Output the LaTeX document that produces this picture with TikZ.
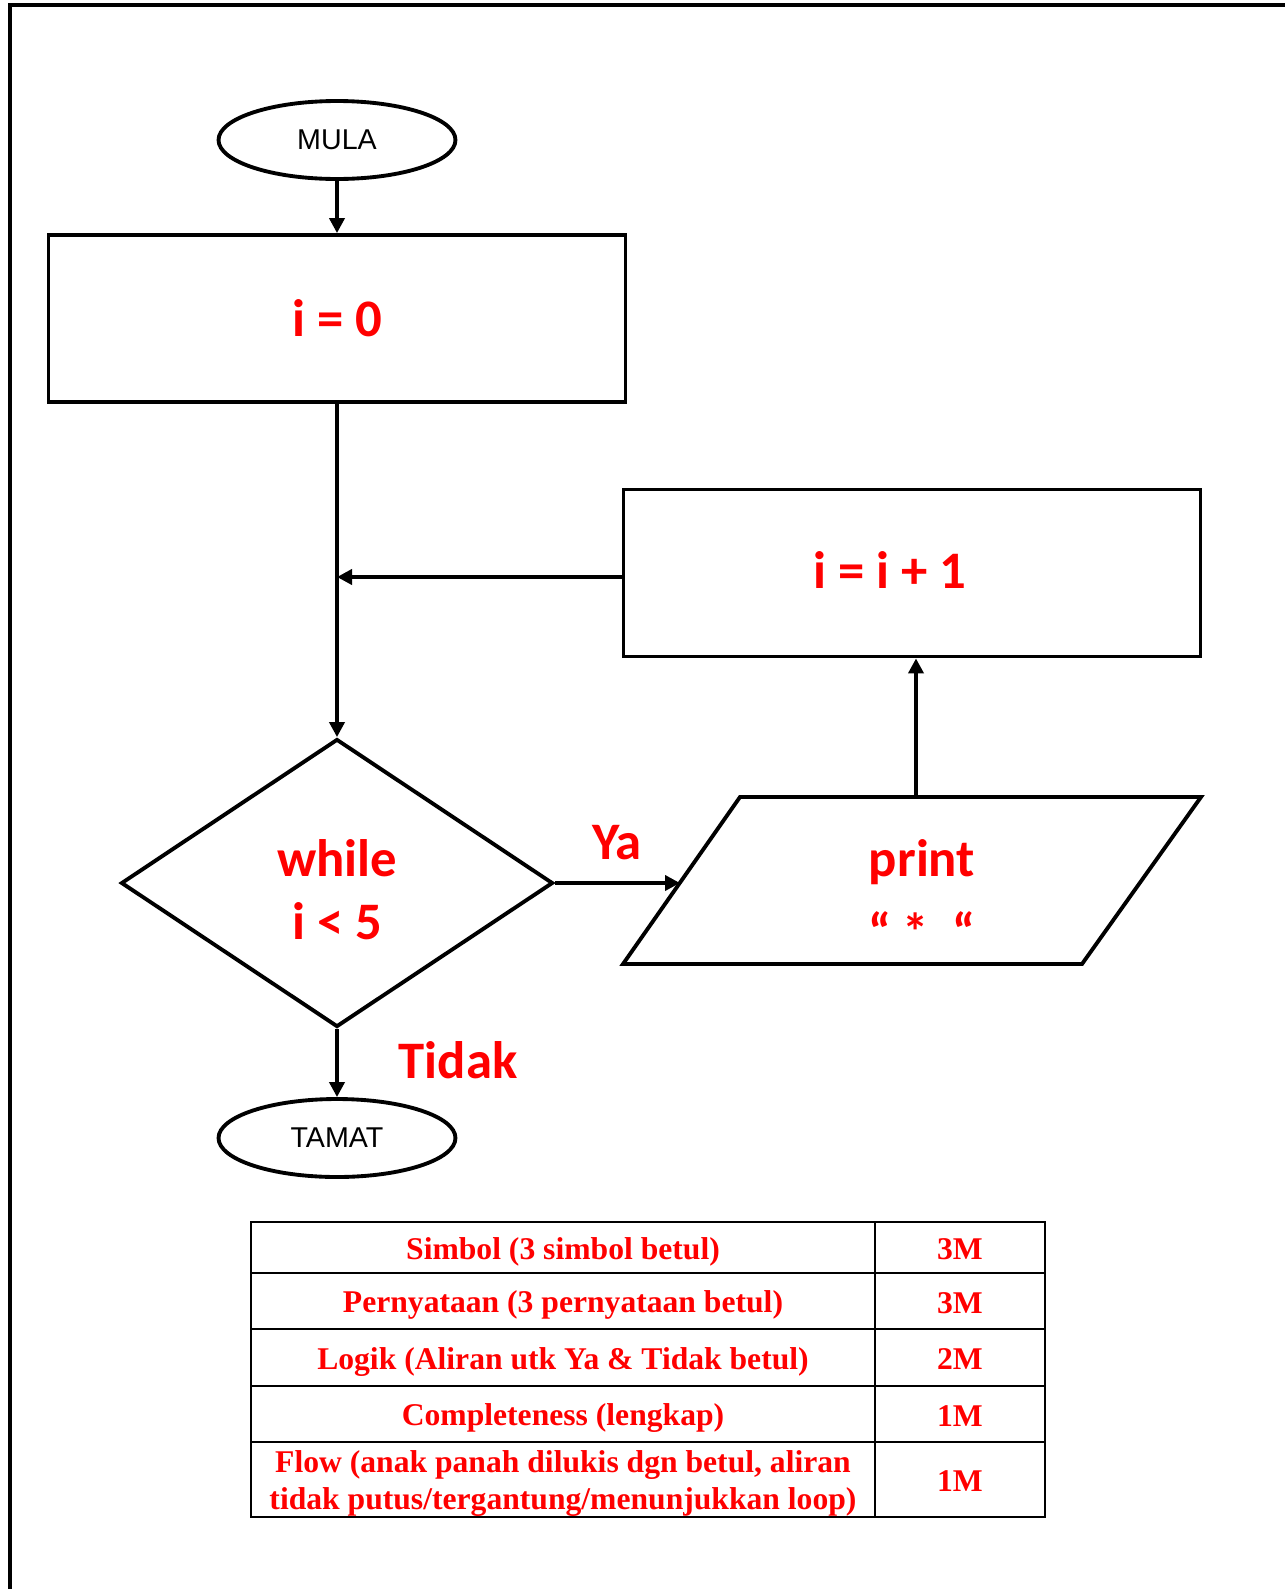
\documentclass[tikz,border=0pt]{standalone}
\usepackage{fontspec}
\setmainfont{Liberation Serif}
\newfontfamily\calibrifont{Carlito}
\newfontfamily\arialfont{Liberation Sans}
\usetikzlibrary{shapes.geometric, arrows.meta, positioning}

\begin{document}
\begin{tikzpicture}[
  x=0.02cm, y=-0.02cm,
  term/.style={ellipse, draw=black, line width=2.2pt, fill=white, minimum width=4.74cm, minimum height=1.56cm, inner sep=0pt, font=\arialfont\fontsize{16.3}{19}\selectfont},
  proc/.style={rectangle, draw=black, line width=2.2pt, minimum width=11.54cm, minimum height=3.34cm, inner sep=0pt},
  dec/.style={diamond, draw=black, line width=2.2pt, minimum width=8.64cm, minimum height=5.76cm, inner sep=0pt},
  shapeline/.style={draw=black, line width=2.2pt, line join=miter},
  big/.style={text=red, font=\calibrifont\bfseries\fontsize{30}{36}\selectfont, align=center},
  arr/.style={line width=2.2pt, -{Triangle[length=0.3cm, width=0.3cm]}},
  cellt/.style={text=red, font=\bfseries\fontsize{18}{20.5}\selectfont, align=center, inner sep=0pt},
]
\useasboundingbox (0,0) rectangle (1285,1589);
\draw[line width=0.08cm] (10,1589) -- (10,5) -- (1285,5);

% flowchart
\node[term] (start) at (337,140) {MULA};
\node[proc, big] (init) at (337,318.5) {i = 0};
\node[proc] (inc) at (912,573) {};
\node[big] (inctxt) at (890,570) {i = i + 1};
\node[dec] (cond) at (337,883) {};
\node[big] (condtxt) at (337,890) {while\\i < 5};
\node[term] (stop) at (337,1138) {TAMAT};

% output parallelogram
\coordinate (ioA) at (740,797);
\coordinate (ioB) at (1201,797);
\coordinate (ioC) at (1082,964);
\coordinate (ioD) at (623,964);
\draw[shapeline] (ioA) -- (ioB) -- (ioC) -- (ioD) -- cycle;
\coordinate (ioW) at (680,883);
\coordinate (ioN) at (916,797);
\node[big] (prt) at (922,862) {print};
\node[big] (qt) at (922,931) {“ *\ \ “};

\draw[arr] (start) -- (init);
\draw[arr] (init) -- (cond);
\draw[arr] ([yshift=-0.08cm]inc.west) -- ([yshift=-0.08cm]inc.west -| init.south);
\draw[arr] (cond.east) -- (ioW);
\draw[arr] (ioN) -- (ioN |- inc.south);
\draw[arr] (cond) -- (stop);

\node[big] (ya) at (617,843) {Ya};
\node[big] (tidak) at (458,1060) {Tidak};

% marking table
\draw[line width=1.1pt] (251,1222) rectangle (1045,1517);
\draw[line width=1.1pt] (875,1222) -- (875,1517);
\foreach \y in {1273,1329,1386,1442}
  \draw[line width=1.1pt] (251,\y) -- (1045,\y);
\foreach \y/\crit/\pts in {1247.5/{Simbol (3 simbol betul)}/3M,
  1301/{Pernyataan (3 pernyataan betul)}/3M,
  1357.5/{Logik (Aliran utk Ya \& Tidak betul)}/2M,
  1414/{Completeness (lengkap)}/1M,
  1479.5/{Flow (anak panah dilukis dgn betul, aliran\\tidak putus/tergantung/menunjukkan loop)}/1M}
{
  \node[cellt] at (563,\y+4) {\crit};
  \node[cellt] at (960,\y+2) {\pts};
}
\end{tikzpicture}
\end{document}
